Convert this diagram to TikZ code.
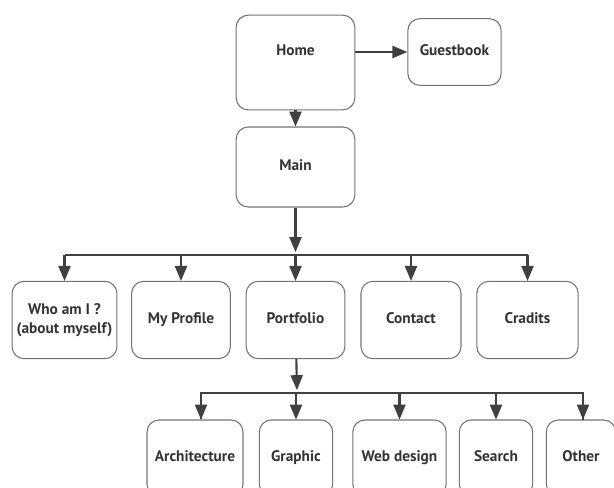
\documentclass[tikz,border=0pt]{standalone}
\usepackage{fontspec}
\setmainfont{PT Sans}
\usetikzlibrary{arrows,calc,positioning}

\tikzset{
	page/.style={draw=black!55, line width=0.8pt, rounded corners=9pt, align=center,
		font=\bfseries\fontsize{11.5}{14}\selectfont, text=black!80, text depth=0.25em},
	link/.style={draw=black!75, line width=1.6pt, -triangle 45},
	bar/.style={draw=black!75, line width=1.6pt}
}

\begin{document}
\begin{tikzpicture}[x=0.75pt,y=-0.75pt]

	\useasboundingbox (0,0) rectangle (614,487);

	\node[page, minimum width=89pt, minimum height=71pt, text depth=18pt] (home) at (295.5,62.5) {Home};
	\node[page, minimum width=70pt, minimum height=50pt] (guest) at (454.5,52) {Guestbook};
	\node[page, minimum width=89pt, minimum height=60pt] (main) at (295.5,167) {Main};

	% second level
	\node[page, minimum width=78pt, minimum height=58pt] (who) at (64.5,320) {Who am I ?\\(about myself)};
	\node[page, minimum width=74pt, minimum height=58pt] (profile) at (181,320) {My Profile};
	\node[page, minimum width=74pt, minimum height=58pt] (portfolio) at (295.5,320) {Portfolio};
	\node[page, minimum width=75pt, minimum height=58pt] (contact) at (411,320) {Contact};
	\node[page, minimum width=76pt, minimum height=58pt] (cradits) at (527.5,320) {Cradits};

	% third level
	\node[page, minimum width=72pt, minimum height=57pt] (arch) at (195,458) {Architecture};
	\node[page, minimum width=55pt, minimum height=57pt] (graphic) at (296,458) {Graphic};
	\node[page, minimum width=70pt, minimum height=57pt] (web) at (399.5,458) {Web design};
	\node[page, minimum width=55pt, minimum height=57pt] (search) at (496,458) {Search};
	\node[page, minimum width=52pt, minimum height=57pt] (other) at (581,458) {Other};

	\coordinate (bar1) at (295.5,255);
	\coordinate (bar2) at (297,393);

	\draw[link] (home.east |- guest) -- (guest);
	\draw[link] (home) -- (main);
	\draw[link] (main) -- ($(bar1)+(0,-3)$);
	\draw[bar] (who |- bar1) -- (cradits |- bar1);
	\foreach \n in {who,profile,portfolio,contact,cradits}
		\draw[link] (\n |- bar1) -- (\n);

	\draw[link] (portfolio) -- ($(bar2)+(0,-3)$);
	\draw[bar] (arch.north -| 201,0) |- (bar2) -| (583,420);
	\draw[link] (201,393) -- (arch.north -| 201,0);
	\foreach \n in {graphic,web,search}
		\draw[link] (\n |- bar2) -- (\n);
	\draw[link] (583,393) -- (other.north -| 583,0);

\end{tikzpicture}
\end{document}
